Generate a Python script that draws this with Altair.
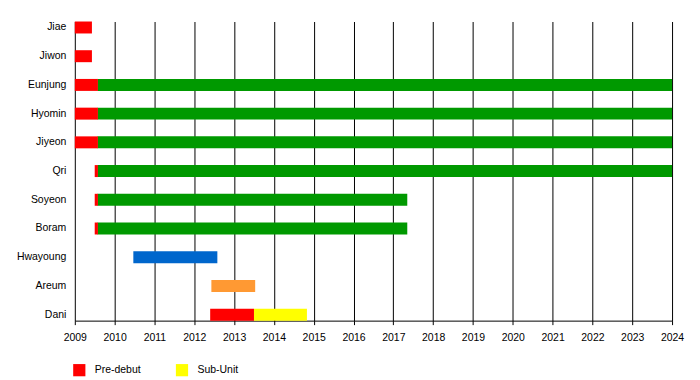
import altair as alt
import pandas as pd

members = ["Jiae", "Jiwon", "Eunjung", "Hyomin", "Jiyeon", "Qri", "Soyeon",
           "Boram", "Hwayoung", "Areum", "Dani"]

# segments: member, status, start, end
seg_member = ["Jiae", "Jiwon",
              "Eunjung", "Eunjung", "Hyomin", "Hyomin", "Jiyeon", "Jiyeon",
              "Qri", "Qri", "Soyeon", "Soyeon", "Boram", "Boram",
              "Hwayoung", "Areum", "Dani", "Dani"]
seg_status = ["Pre-debut", "Pre-debut",
              "Active", "Pre-debut", "Active", "Pre-debut", "Active", "Pre-debut",
              "Active", "Pre-debut", "Active", "Pre-debut", "Active", "Pre-debut",
              "Hwayoung era", "Areum era", "Pre-debut", "Sub-Unit"]
seg_start = [2009.0, 2009.0,
             2009.57, 2009.0, 2009.57, 2009.0, 2009.57, 2009.0,
             2009.57, 2009.5, 2009.57, 2009.5, 2009.57, 2009.5,
             2010.47, 2012.43, 2012.4, 2013.5]
seg_end = [2009.43, 2009.43,
           2024.0, 2009.58, 2024.0, 2009.58, 2024.0, 2009.58,
           2024.0, 2009.58, 2017.35, 2009.58, 2017.35, 2009.58,
           2012.58, 2013.53, 2013.5, 2014.83]

status_names = ["Pre-debut", "Sub-Unit", "Active", "Hwayoung era", "Areum era"]
status_colors = ["#FF0000", "#FFFF00", "#009900", "#0066CC", "#FF9933"]
years = list(range(2009, 2025))

df = pd.DataFrame({"member": seg_member, "status": seg_status,
                   "start": seg_start, "end": seg_end})

FONT = "Liberation Sans"

chart = alt.Chart(df).mark_bar(cornerRadius=0).encode(
    x=alt.X("start:Q",
            scale=alt.Scale(domain=[2009, 2024], nice=False, zero=False),
            axis=alt.Axis(values=years, format="d", title=None, grid=True,
                          gridColor="#000000", gridOpacity=1, gridWidth=1,
                          domainColor="#000000", domainWidth=1,
                          tickColor="#000000", tickSize=4, labelFontSize=10.5,
                          labelColor="#000000", labelFont=FONT, labelPadding=8,
                          labelFlush=False, labelOverlap=False)),
    x2="end:Q",
    y=alt.Y("member:N", sort=members,
            scale=alt.Scale(paddingInner=0.5833, paddingOuter=0),
            axis=alt.Axis(title=None, domain=False, ticks=False, grid=False,
                          labelFontSize=10.5, labelColor="#000000",
                          labelFont=FONT, labelPadding=9)),
    color=alt.Color("status:N",
                    scale=alt.Scale(domain=status_names, range=status_colors),
                    legend=alt.Legend(values=["Pre-debut", "Sub-Unit"],
                                      title=None, orient="none",
                                      legendX=-2, legendY=343,
                                      direction="horizontal",
                                      symbolType="square", symbolSize=150,
                                      symbolStrokeWidth=0, symbolOpacity=1,
                                      labelFontSize=10.5, labelFont=FONT,
                                      labelColor="#000000", labelOffset=9,
                                      columnPadding=34)),
).properties(
    width=599, height=300,
    padding={"left": 67, "top": 13, "right": 20, "bottom": 60},
    autosize=alt.AutoSizeParams(type="none"),
).configure_view(stroke=None)

chart.save("out.html", embed_options={"renderer": "svg", "actions": False})
